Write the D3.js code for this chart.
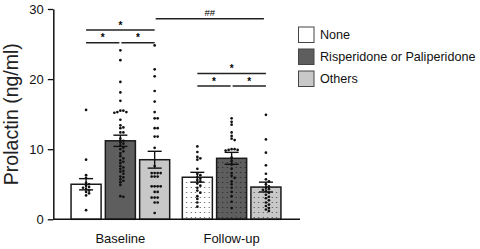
<!DOCTYPE html>
<html>
<head>
<meta charset="utf-8">
<script src="https://cdn.jsdelivr.net/npm/d3@7"></script>
<style>
  body { margin: 0; background: #fff; }
  svg { display: block; font-family: "Liberation Sans", Arial, Helvetica, sans-serif; }
</style>
</head>
<body>
<div id="chart"></div>
<script>
const timepoints = ["Baseline", "Follow-up"];
const treatments = ["None", "Risperidone or Paliperidone", "Others"];
const fillColors = ["#ffffff", "#5e5e5e", "#c8c8c8"];

// bar means and SEM [Baseline, Follow-up]
const meanNone = [5.0, 6.0];
const meanRisp = [11.2, 8.7];
const meanOthers = [8.5, 4.6];
const semNone = [0.8, 0.7];
const semRisp = [0.8, 0.85];
const semOthers = [1.2, 0.7];

// individual subjects
const baseNone = [15.6, 8.5, 6.3, 5.9, 5.2, 5.0, 4.8, 4.6, 4.5, 4.3, 4.1, 3.9, 3.7, 3.4, 1.3];
const baseRisp = [24.1, 22.7, 19.6, 18.1, 16.9, 15.5, 15.3, 15.2, 15.3, 15.5, 14.2, 13.4, 13.1, 13.0,
  12.4, 12.4, 11.5, 11.2, 11.0, 10.8, 10.5, 10.2, 10.0, 9.7, 9.4, 9.0, 8.7, 8.4, 8.0, 7.6, 7.2,
  6.8, 6.5, 6.1, 5.7, 5.3, 4.9, 8.2, 7.4, 6.9, 6.0, 5.5, 3.3, 3.2];
const baseOthers = [24.8, 21.4, 20.4, 18.3, 16.8, 15.3, 14.4, 14.4, 13.0, 13.0, 11.8, 11.8, 10.2,
  7.6, 6.6, 6.6, 6.6, 6.6, 6.1, 6.1, 6.1, 4.7, 4.7, 4.7, 4.7, 3.9, 3.9, 3.1, 3.1, 3.1, 2.4, 2.4, 0.9];
const followNone = [10.4, 9.6, 8.9, 8.7, 8.5, 7.2, 6.5, 6.3, 6.0, 5.8, 5.6, 5.4, 5.1, 4.8, 4.5, 4.1,
  3.8, 3.3, 2.9, 2.4, 1.8];
const followRisp = [14.4, 13.9, 13.5, 12.4, 11.9, 11.5, 11.3, 10.0, 9.9, 9.9, 10.0, 9.8, 8.8, 8.3,
  7.8, 7.2, 6.6, 6.2, 5.9, 5.4, 5.0, 4.5, 3.9, 3.3, 2.5, 1.6];
const followOthers = [14.9, 11.4, 9.5, 7.7, 6.5, 5.7, 5.4, 5.0, 4.7, 4.5, 4.3, 4.2, 4.0, 3.8, 3.5,
  3.2, 3.0, 2.7, 2.4, 2.1, 1.9, 1.6, 1.4, 1.2];

const yTicks = [0, 10, 20, 30];

// significance brackets: [timepoint, from, to, level, label]
const brackets = [
  ["Baseline", 0, 2, 27.0, "*"],
  ["Baseline", 0, 1, 25.2, "*"],
  ["Baseline", 1, 2, 25.2, "*"],
  ["Follow-up", 0, 2, 20.8, "*"],
  ["Follow-up", 0, 1, 19.0, "*"],
  ["Follow-up", 1, 2, 19.0, "*"]
];

const rows = [];
timepoints.forEach((t, ti) => {
  const means = [meanNone[ti], meanRisp[ti], meanOthers[ti]];
  const sems = [semNone[ti], semRisp[ti], semOthers[ti]];
  const pts = ti === 0 ? [baseNone, baseRisp, baseOthers] : [followNone, followRisp, followOthers];
  treatments.forEach((g, gi) => {
    rows.push({ time: t, ti, group: g, gi, mean: means[gi], sem: sems[gi], points: pts[gi] });
  });
});

const width = 480, height = 249;
const svg = d3.select("#chart").append("svg")
  .attr("width", width).attr("height", height);

const y = d3.scaleLinear().domain([0, 30]).range([219.3, 9]);
const x0 = d3.scaleBand().domain(timepoints).range([52.5, 299.5])
  .paddingInner(0.1).paddingOuter(0.16);
const x1 = d3.scaleBand().domain(treatments).range([0, x0.bandwidth()]).paddingInner(0.08);
const cx = (t, gi) => x0(t) + x1(treatments[gi]) + x1.bandwidth() / 2;

// stipple patterns for the follow-up bars
const defs = svg.append("defs");
fillColors.forEach((c, i) => {
  const p = defs.append("pattern")
    .attr("id", "dots" + i)
    .attr("patternUnits", "userSpaceOnUse")
    .attr("width", 4.5).attr("height", 5);
  p.append("rect").attr("width", 4.5).attr("height", 5).attr("fill", c);
  p.append("circle").attr("cx", 2.2).attr("cy", 2.5).attr("r", 0.6)
    .attr("fill", i === 1 ? "#1a1a1a" : "#333");
});

// bars
svg.append("g").selectAll("rect")
  .data(rows)
  .enter()
  .append("rect")
  .attr("x", d => x0(d.time) + x1(d.group) + 0.75)
  .attr("y", d => y(d.mean))
  .attr("width", x1.bandwidth() - 1.5)
  .attr("height", d => y(0) - y(d.mean))
  .attr("fill", d => d.ti === 0 ? fillColors[d.gi] : `url(#dots${d.gi})`)
  .attr("stroke", "#1a1a1a")
  .attr("stroke-width", 1.5);

// scatter points, simple beeswarm kept narrow
const r = 1.35, step = 3.0;
rows.forEach(d => {
  const center = cx(d.time, d.gi);
  const placed = [];
  const sorted = d.points.slice().sort((a, b) => b - a);
  sorted.forEach(v => {
    const py = y(v);
    let off = 0, best = Infinity;
    for (let k = 0; k < 7; k++) {
      const cand = k === 0 ? 0 : (k % 2 ? 1 : -1) * Math.ceil(k / 2) * step;
      const near = d3.min(placed, p => Math.hypot(p.x - cand, p.y - py)) ?? Infinity;
      if (near >= 2.6) { off = cand; best = -1; break; }
      if (near > (best === Infinity ? -1 : best)) { best = near; off = cand; }
    }
    placed.push({ x: off, y: py });
  });
  svg.append("g").selectAll("circle")
    .data(placed)
    .enter()
    .append("circle")
    .attr("cx", p => center + p.x)
    .attr("cy", p => p.y)
    .attr("r", r)
    .attr("fill", "#111");
});

// error bars (mean ± SEM)
const eb = svg.append("g").attr("stroke", "#111").attr("stroke-width", 1.4);
rows.forEach(d => {
  const c = cx(d.time, d.gi);
  const hi = y(d.mean + d.sem), lo = y(d.mean - d.sem);
  eb.append("line").attr("x1", c).attr("x2", c).attr("y1", hi).attr("y2", lo);
  eb.append("line").attr("x1", c - 7).attr("x2", c + 7).attr("y1", hi).attr("y2", hi);
  eb.append("line").attr("x1", c - 7).attr("x2", c + 7).attr("y1", lo).attr("y2", lo);
});

// axes
const yAxis = svg.append("g")
  .attr("transform", `translate(53.3,0)`)
  .call(d3.axisLeft(y).tickValues(yTicks).tickSize(5.5).tickPadding(4).tickSizeOuter(0));
yAxis.select(".domain").attr("stroke", "#111").attr("stroke-width", 1.5);
yAxis.selectAll(".tick line").attr("stroke", "#111").attr("stroke-width", 1.3);
yAxis.selectAll(".tick text").attr("font-size", 13).attr("fill", "#111")
  .attr("font-family", "Liberation Sans, Arial, sans-serif");

svg.append("line")
  .attr("x1", 53.3).attr("x2", 300)
  .attr("y1", y(0)).attr("y2", y(0))
  .attr("stroke", "#111").attr("stroke-width", 1.5);

svg.append("g").selectAll("text")
  .data(timepoints)
  .enter()
  .append("text")
  .attr("x", d => x0(d) + x0.bandwidth() / 2)
  .attr("y", 242.5)
  .attr("text-anchor", "middle")
  .attr("font-size", 13)
  .attr("fill", "#111")
  .text(d => d);

svg.append("text")
  .attr("transform", `translate(17.5,${(y(0) + y(30)) / 2}) rotate(-90)`)
  .attr("text-anchor", "middle")
  .attr("font-size", 19.5)
  .attr("fill", "#222")
  .text("Prolactin (ng/ml)");

// significance brackets
const sig = svg.append("g");
brackets.forEach(([t, a, b, lvl, lab]) => {
  const full = a === 0 && b === 2;
  const xa = cx(t, a) + (full || a === 0 ? 0 : 1);
  const xb = cx(t, b) - (full || b === 2 ? 0 : 1);
  const yy = y(lvl);
  sig.append("line").attr("x1", xa).attr("x2", xb).attr("y1", yy).attr("y2", yy)
    .attr("stroke", "#222").attr("stroke-width", 1.5);
  sig.append("text").attr("x", (xa + xb) / 2).attr("y", yy - 1.5)
    .attr("text-anchor", "middle").attr("font-size", 10).attr("font-weight", "bold")
    .attr("fill", "#000").text(lab);
});
// between timepoints (Others)
const hx1 = cx("Baseline", 2) + 1, hx2 = cx("Follow-up", 2) - 2;
sig.append("line").attr("x1", hx1).attr("x2", hx2).attr("y1", y(28.6)).attr("y2", y(28.6))
  .attr("stroke", "#222").attr("stroke-width", 1.5);
sig.append("text").attr("x", (hx1 + hx2) / 2).attr("y", y(28.6) - 2.5)
  .attr("text-anchor", "middle").attr("font-size", 9.5).attr("fill", "#000")
  .text("##");

// legend
const legend = svg.append("g").attr("transform", "translate(298.5,27)");
treatments.forEach((g, i) => {
  const row = legend.append("g").attr("transform", `translate(0,${i * 22})`);
  row.append("rect").attr("width", 15.5).attr("height", 15.5)
    .attr("fill", fillColors[i]).attr("stroke", "#444").attr("stroke-width", 1);
  row.append("text").attr("x", 21.5).attr("y", 12)
    .attr("font-size", 12.6).attr("fill", "#111").text(g);
});
</script>
</body>
</html>
